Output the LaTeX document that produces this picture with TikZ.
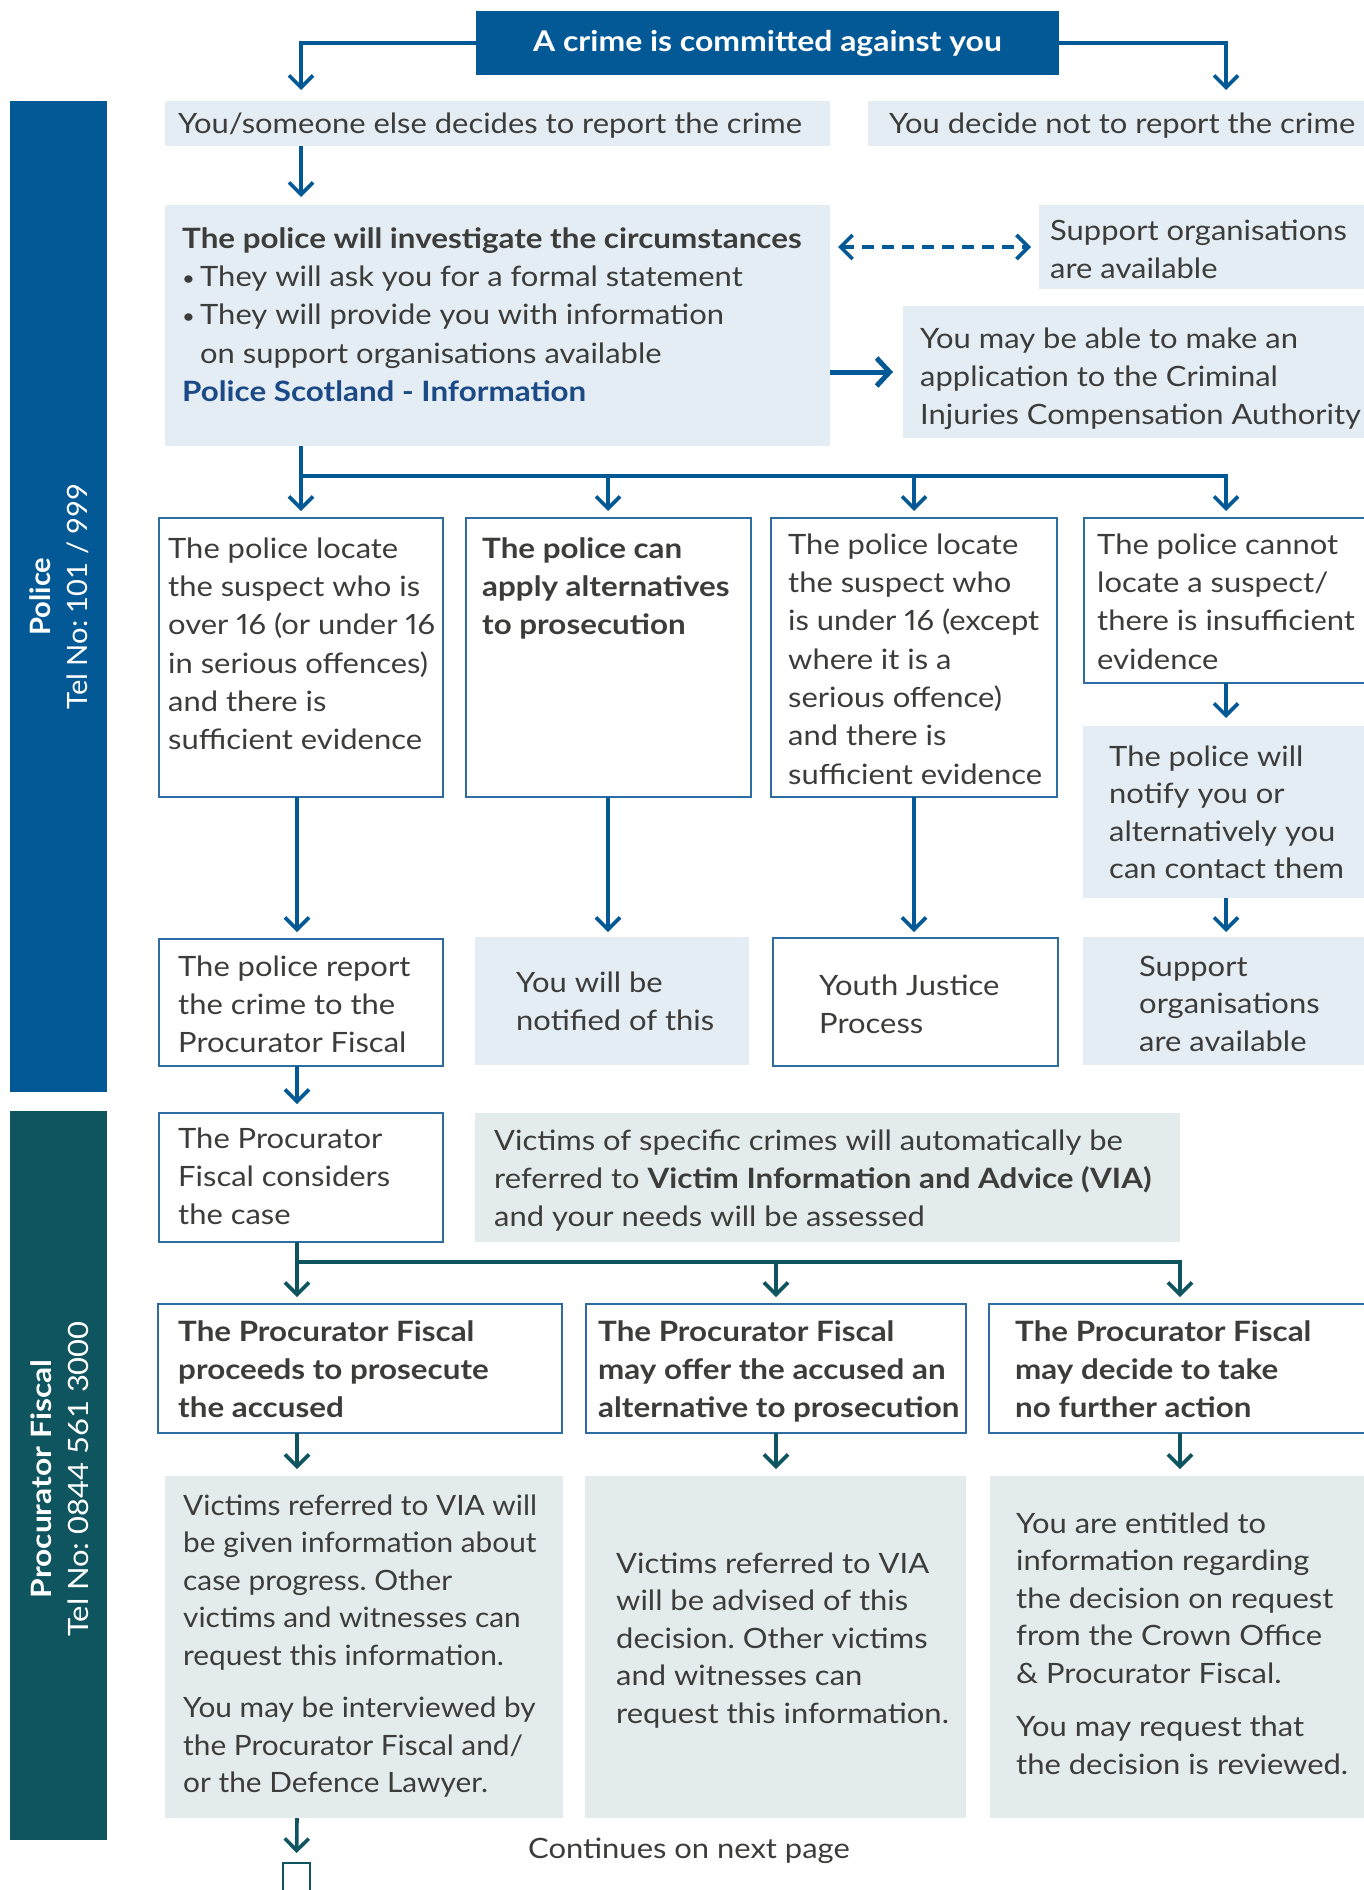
\documentclass[tikz,border=0pt]{standalone}
\usepackage{fontspec}
\setmainfont{Lato}[Numbers=Proportional, FakeStretch=1.105, BoldFeatures={FakeStretch=1.12}]
\newfontfamily\barfont{Lato}[FakeStretch=1.04]
\newfontfamily\pffont{Lato}[FakeStretch=1.105, BoldFeatures={FakeStretch=1.135}]
\newfontfamily\fonefont{Lato}[Numbers=Proportional, FakeStretch=1.065]
\usetikzlibrary{arrows.meta,calc}
\definecolor{pblue}{HTML}{035996}
\definecolor{pteal}{HTML}{0F5560}
\definecolor{lbfill}{HTML}{E4ECF4}
\definecolor{pffill}{HTML}{E4EBED}
\definecolor{ocol}{HTML}{2E6DA4}
\definecolor{tcol}{HTML}{3C3C3B}
\definecolor{lnk}{HTML}{1B4A86}
\frenchspacing
\newcommand\mys{\rule{0pt}{24pt}}
\newcommand\bul{\makebox[18pt][l]{\raisebox{1.5pt}{\fontsize{20}{20}\selectfont •}}}
\tikzset{
  bx/.style 2 args={anchor=north west, inner sep=0pt, outer sep=0pt, minimum width=#1pt, minimum height=#2pt},
  lbox/.style={fill=lbfill},
  pbox/.style={fill=pffill},
  obox/.style={draw=ocol, line width=1.6pt, fill=white},
  txt/.style={anchor=north west, inner sep=0pt, align=left, text=tcol, font=\fontsize{28}{38.3}\selectfont},
  arr/.style={draw=pblue, line width=3.6pt, -{Straight Barb[length=12pt,width=24pt]}},
  tarr/.style={draw=pteal, line width=3.6pt, -{Straight Barb[length=12pt,width=24pt]}},
  darr/.style={draw=pblue, line width=3.6pt, dash pattern=on 12pt off 8pt, {Straight Barb[length=12pt,width=24pt]}-{Straight Barb[length=12pt,width=24pt]}},
  thickarr/.style={draw=pblue, line width=5pt, -{Straight Barb[length=13pt,width=28pt]}},
}
\begin{document}
\frenchspacing
\begin{tikzpicture}[x=1pt,y=-1pt]
\path[use as bounding box, fill=white] (0,0) rectangle (1363,1890);
% column coordinates
\coordinate (colA) at (301,0);
\coordinate (colB) at (608,0);
\coordinate (colC) at (914,0);
\coordinate (colD) at (1226,0);
\coordinate (colE) at (297,0);
\coordinate (colF) at (776,0);
\coordinate (colG) at (1180,0);
\coordinate (br1) at (301,476);
\coordinate (br2) at (297,1262);

% side bars
\node[bx={97}{991}, fill=pblue] (polbar) at (10,101) {};
\node[bx={97}{729}, fill=pteal] (pfbar) at (10,1111) {};
\node[rotate=90, align=center, text=white, inner sep=0pt, font=\barfont\fontsize{28}{37}\selectfont] (poltxt) at (59.5,596.5) {\textbf{Police}\\Tel No: 101 / 999};
\node[rotate=90, align=center, text=white, inner sep=0pt, font=\pffont\fontsize{28}{37}\selectfont] (pftxt) at (59.5,1479) {\textbf{Procurator Fiscal}\\Tel No: 0844 561 3000};

% boxes
\node[bx={583}{64}, fill=pblue, text=white, font=\fontsize{28.5}{34}\selectfont\bfseries] (title) at (476,11) {A crime is committed against you};
\node[bx={665}{45}, lbox] (rep) at (165,101) {};
\node[bx={510}{45}, lbox] (norep) at (868,101) {};
\node[bx={665}{241}, lbox] (main) at (165,205) {};
\node[bx={340}{84}, lbox] (supp) at (1039,205) {};
\node[bx={476}{132}, lbox] (cica) at (903,306) {};
\node[bx={284}{279}, obox] (b1) at (159,518) {};
\node[bx={285}{279}, obox] (b2) at (466,518) {};
\node[bx={286}{279}, obox] (b3) at (771,518) {};
\node[bx={300}{165}, obox] (b4) at (1084,518) {};
\node[bx={300}{172}, lbox] (b4b) at (1083,726) {};
\node[bx={300}{128}, lbox] (b4c) at (1083,937) {};
\node[bx={284}{127}, obox] (c1) at (159,939) {};
\node[bx={274}{128}, lbox] (c2) at (475,937) {};
\node[bx={285}{128}, obox] (c3) at (773,938) {};
\node[bx={284}{129}, obox] (d1) at (159,1113) {};
\node[bx={705}{129}, pbox] (via) at (475,1113) {};
\node[bx={404}{129}, obox] (e1) at (158,1304) {};
\node[bx={380}{129}, obox] (e2) at (586,1304) {};
\node[bx={390}{129}, obox] (e3) at (989,1304) {};
\node[bx={398}{342}, pbox] (f1) at (165,1476) {};
\node[bx={381}{342}, pbox] (f2) at (585,1476) {};
\node[bx={390}{342}, pbox] (f3) at (990,1476) {};
\node[bx={27}{40}, draw=pteal, line width=1.8pt, fill=white] (cont) at (283,1863) {};

% texts
\node[txt] (trep) at (178,109) {\mys You/someone else decides to report the crime};
\node[txt] (tnorep) at (889,109) {\mys You decide not to report the crime};
\node[txt] (tmain) at (182,224) {\mys\textbf{The police will investigate the circumstances}\\
\bul They will ask you for a formal statement\\
\bul They will provide you with information\\
\hspace*{18pt}on support organisations available\\
\textcolor{lnk}{\textbf{Police Scotland - Information}}};
\node[txt] (tsupp) at (1050,216) {\mys Support organisations\\are available};
\node[txt] (tcica) at (920,324) {\mys You may be able to make an\\application to the Criminal\\Injuries Compensation Authority};
\node[txt] (tb1) at (168,534) {\mys The police locate\\the suspect who is\\over 16 (or under 16\\in serious offences)\\and there is\\sufficient evidence};
\node[txt, font=\fontsize{28}{38.3}\selectfont\bfseries] (tb2) at (482,534) {\mys The police can\\apply alternatives\\to prosecution};
\node[txt] (tb3) at (788,530) {\mys The police locate\\the suspect who\\is under 16 (except\\where it is a\\serious offence)\\and there is\\sufficient evidence};
\node[txt] (tb4) at (1097,530) {\mys The police cannot\\locate a suspect/\\there is insufficient\\evidence};
\node[txt, font=\fontsize{28}{37.5}\selectfont] (tb4b) at (1109,742) {\mys The police will\\notify you or\\alternatively you\\can contact them};
\node[txt, font=\fontsize{28}{37.5}\selectfont] (tb4c) at (1139,952) {\mys Support\\organisations\\are available};
\node[txt] (tc1) at (178,952) {\mys The police report\\the crime to the\\Procurator Fiscal};
\node[txt] (tc2) at (516,968) {\mys You will be\\notified of this};
\node[txt] (tc3) at (819,971) {\mys Youth Justice\\Process};
\node[txt] (td1) at (178,1124) {\mys The Procurator\\Fiscal considers\\the case};
\node[txt] (tvia) at (494,1126) {\mys Victims of specific crimes will automatically be\\referred to \textbf{Victim Information and Advice (VIA)}\\and your needs will be assessed};
\node[txt, font=\fontsize{28}{38.3}\selectfont\bfseries] (te1) at (178,1317) {\mys The Procurator Fiscal\\proceeds to prosecute\\the accused};
\node[txt, font=\fontsize{28}{38.3}\selectfont\bfseries] (te2) at (598,1317) {\mys The Procurator Fiscal\\may offer the accused an\\alternative to prosecution};
\node[txt, font=\fontsize{28}{38.3}\selectfont\bfseries] (te3) at (1015,1317) {\mys The Procurator Fiscal\\may decide to take\\no further action};
\node[txt, font=\fonefont\fontsize{28}{37.5}\selectfont] (tf1) at (183,1491) {\mys Victims referred to VIA will\\be given information about\\case progress. Other\\victims and witnesses can\\request this information.\\[15pt]You may be interviewed by\\the Procurator Fiscal and/\\or the Defence Lawyer.};
\node[txt, font=\fontsize{28}{37.5}\selectfont] (tf2) at (616,1549) {\mys Victims referred to VIA\\will be advised of this\\decision. Other victims\\and witnesses can\\request this information.};
\node[txt, font=\fontsize{28}{37.5}\selectfont] (tf3) at (1016,1509) {\mys You are entitled to\\information regarding\\the decision on request\\from the Crown Office\\\& Procurator Fiscal.\\[16pt]You may request that\\the decision is reviewed.};
\node[txt, anchor=center] (tcont) at (689,1851) {Continues on next page};

% connectors
\draw[arr, shorten >=11pt] (title.west) -| (rep.north -| colA);
\draw[arr, shorten >=11pt] (title.east) -| (norep.north -| colD);
\draw[arr, shorten >=8pt] (rep.south -| colA) -- (main.north -| colA);
\draw[darr, shorten <=8pt, shorten >=8pt] (main.east |- supp.west) -- (supp.west);
\draw[thickarr, shorten >=10pt] (main.east |- cica.west) -- (cica.west);
\draw[arr, shorten >=7pt] (main.south -| colA) -- (b1.north -| colA);
\draw[arr, shorten >=7pt] (br1) -| (b4.north -| colD);
\draw[arr, shorten >=7pt] (br1 -| colB) -- (b2.north -| colB);
\draw[arr, shorten >=7pt] (br1 -| colC) -- (b3.north -| colC);
\draw[arr, shorten >=7pt] (b1.south -| colE) -- (c1.north -| colE);
\draw[arr, shorten >=5pt] (b2.south -| colB) -- (c2.north -| colB);
\draw[arr, shorten >=6pt] (b3.south -| colC) -- (c3.north -| colC);
\draw[arr, shorten >=8pt] (b4.south -| colD) -- (b4b.north -| colD);
\draw[arr, shorten >=5pt] (b4b.south -| colD) -- (b4c.north -| colD);
\draw[arr, shorten >=9pt] (c1.south -| colE) -- (d1.north -| colE);
\draw[tarr, shorten >=7pt] (d1.south -| colE) -- (e1.north -| colE);
\draw[tarr, shorten >=7pt] (br2) -| (e3.north -| colG);
\draw[tarr, shorten >=7pt] (br2 -| colF) -- (e2.north -| colF);
\draw[tarr, shorten >=7pt] (e1.south -| colE) -- (f1.north -| colE);
\draw[tarr, shorten >=7pt] (e2.south -| colF) -- (f2.north -| colF);
\draw[tarr, shorten >=7pt] (e3.south -| colG) -- (f3.north -| colG);
\draw[tarr, shorten >=10pt] (f1.south -| colE) -- (cont.north);
\end{tikzpicture}
\end{document}
